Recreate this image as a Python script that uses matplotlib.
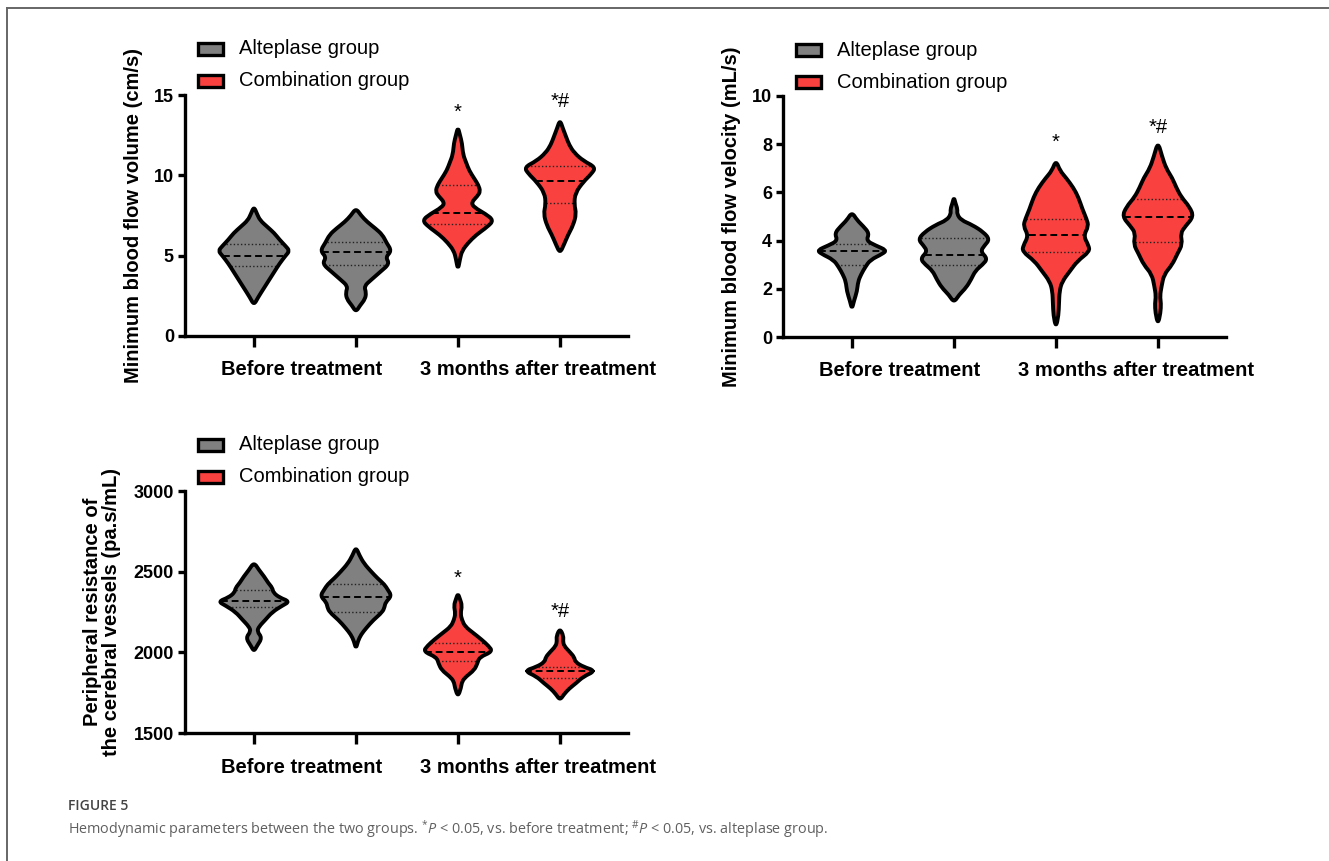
import numpy as np
import matplotlib
matplotlib.use("Agg")
import matplotlib.pyplot as plt
from matplotlib.path import Path
from matplotlib.patches import PathPatch, Rectangle
from matplotlib.lines import Line2D
import matplotlib.transforms as mtransforms

plt.rcParams['font.family'] = ['Liberation Sans', 'DejaVu Sans']
plt.rcParams['mathtext.fontset'] = 'custom'
plt.rcParams['mathtext.rm'] = 'Open Sans'
plt.rcParams['mathtext.it'] = 'Open Sans:italic'

# ---------------- shared data ----------------
time_labels = ["Before treatment", "3 months after treatment"]
time_label_x = [0.47, 2.78]
group_labels = ["Alteplase group", "Combination group"]
group_colors = ["#808080", "#F9423F"]
violin_pos = [0, 1, 2, 3]
violin_color_idx = [0, 0, 1, 1]
sig_labels = ["", "", "*", "*#"]

# ---------------- Panel A: Minimum blood flow volume ----------------
a_ylabel = "Minimum blood flow volume (cm/s)"
a_ylim = [0, 15]
a_yticks = [0, 5, 10, 15]
a_sig_y = [0, 0, 13.56, 14.25]
a1_y = [1.93, 2.4, 3.0, 3.5, 4.0, 4.5, 5.0, 5.3, 5.6, 6.0, 6.4, 6.8, 7.2, 7.6, 8.05]
a1_w = [0, 0.04, 0.10, 0.15, 0.20, 0.25, 0.31, 0.35, 0.31, 0.25, 0.20, 0.13, 0.06, 0.03, 0]
a1_q = [4.35, 5.0, 5.75]
a2_y = [1.5, 1.9, 2.3, 2.7, 3.1, 3.5, 4.0, 4.5, 4.9, 5.3, 5.8, 6.3, 6.7, 7.1, 7.5, 7.95]
a2_w = [0, 0.04, 0.09, 0.10, 0.08, 0.15, 0.24, 0.33, 0.29, 0.35, 0.30, 0.26, 0.19, 0.11, 0.05, 0]
a2_q = [4.4, 5.25, 5.88]
a3_y = [4.1, 4.8, 5.3, 5.8, 6.3, 6.8, 7.2, 7.6, 8.0, 8.3, 8.7, 9.0, 9.4, 9.8, 10.3, 10.8, 11.3, 12.0, 12.5, 13.0]
a3_w = [0, 0.02, 0.04, 0.10, 0.18, 0.29, 0.35, 0.27, 0.16, 0.13, 0.19, 0.22, 0.20, 0.16, 0.11, 0.08, 0.05, 0.04, 0.02, 0]
a3_q = [7.0, 7.63, 9.4]
a4_y = [5.15, 5.7, 6.3, 6.9, 7.6, 8.2, 8.9, 9.6, 10.1, 10.5, 10.9, 11.4, 11.9, 12.4, 12.9, 13.45]
a4_w = [0, 0.04, 0.08, 0.13, 0.16, 0.14, 0.15, 0.23, 0.31, 0.35, 0.23, 0.14, 0.09, 0.06, 0.03, 0]
a4_q = [8.26, 9.65, 10.55]

# ---------------- Panel B: Minimum blood flow velocity ----------------
b_ylabel = "Minimum blood flow velocity (mL/s)"
b_ylim = [0, 10]
b_yticks = [0, 2, 4, 6, 8, 10]
b_sig_y = [0, 0, 7.84, 8.48]
b1_y = [1.15, 1.5, 1.9, 2.3, 2.6, 2.9, 3.2, 3.45, 3.6, 3.8, 4.0, 4.3, 4.6, 4.85, 5.18]
b1_w = [0, 0.02, 0.05, 0.06, 0.09, 0.13, 0.18, 0.30, 0.34, 0.23, 0.14, 0.17, 0.11, 0.05, 0]
b1_q = [3.0, 3.56, 3.86]
b2_y = [1.43, 1.75, 2.05, 2.4, 2.75, 3.0, 3.25, 3.55, 3.8, 4.05, 4.35, 4.65, 4.85, 5.1, 5.3, 5.55, 5.8]
b2_w = [0, 0.05, 0.12, 0.17, 0.21, 0.28, 0.33, 0.26, 0.30, 0.35, 0.29, 0.18, 0.07, 0.03, 0.035, 0.015, 0]
b2_q = [2.99, 3.4, 4.11]
b3_y = [0.39, 0.9, 1.4, 1.9, 2.3, 2.75, 3.15, 3.55, 3.8, 4.2, 4.6, 4.9, 5.3, 5.8, 6.2, 6.6, 6.9, 7.33]
b3_w = [0, 0.025, 0.03, 0.035, 0.06, 0.14, 0.21, 0.33, 0.32, 0.27, 0.32, 0.30, 0.26, 0.22, 0.17, 0.10, 0.04, 0]
b3_q = [3.51, 4.24, 4.88]
b4_y = [0.53, 1.0, 1.4, 1.7, 2.1, 2.6, 3.0, 3.45, 3.85, 4.3, 4.6, 5.0, 5.4, 5.8, 6.2, 6.6, 7.0, 7.5, 8.1]
b4_w = [0, 0.025, 0.03, 0.02, 0.035, 0.06, 0.14, 0.19, 0.24, 0.22, 0.27, 0.35, 0.31, 0.23, 0.18, 0.14, 0.08, 0.04, 0]
b4_q = [3.96, 4.97, 5.71]

# ---------------- Panel C: Peripheral resistance ----------------
c_ylabel = "Peripheral resistance of\nthe cerebral vessels (pa.s/mL)"
c_ylim = [1500, 3000]
c_yticks = [1500, 2000, 2500, 3000]
c_sig_y = [0, 0, 2426, 2219]
c1_y = [2006, 2040, 2090, 2130, 2160, 2200, 2250, 2290, 2315, 2340, 2370, 2400, 2430, 2470, 2510, 2558]
c1_w = [0, 0.03, 0.08, 0.03, 0.05, 0.11, 0.18, 0.28, 0.35, 0.25, 0.19, 0.18, 0.14, 0.10, 0.05, 0]
c1_q = [2283, 2319, 2387]
c2_y = [2021, 2070, 2110, 2150, 2200, 2250, 2280, 2310, 2350, 2390, 2420, 2460, 2500, 2550, 2600, 2652]
c2_w = [0, 0.02, 0.05, 0.10, 0.17, 0.26, 0.28, 0.29, 0.35, 0.31, 0.28, 0.21, 0.15, 0.08, 0.035, 0]
c2_q = [2252, 2344, 2423]
c3_y = [1725, 1780, 1820, 1850, 1890, 1930, 1970, 2005, 2040, 2080, 2120, 2160, 2200, 2240, 2290, 2330, 2365]
c3_w = [0, 0.03, 0.04, 0.08, 0.16, 0.19, 0.21, 0.34, 0.30, 0.23, 0.15, 0.07, 0.04, 0.025, 0.04, 0.02, 0]
c3_q = [1948, 2002, 2058]
c4_y = [1704, 1740, 1775, 1810, 1850, 1885, 1910, 1940, 1970, 2000, 2040, 2070, 2100, 2148]
c4_w = [0, 0.04, 0.09, 0.16, 0.23, 0.35, 0.23, 0.15, 0.14, 0.1, 0.04, 0.03, 0.035, 0]
c4_q = [1840, 1885, 1912]

panels = [
    dict(ylabel=a_ylabel, ylim=a_ylim, yticks=a_yticks, sig_y=a_sig_y,
         prof=[(a1_y, a1_w, a1_q), (a2_y, a2_w, a2_q), (a3_y, a3_w, a3_q), (a4_y, a4_w, a4_q)],
         rect=[185 / 1329, 1 - 336 / 861, 443 / 1329, 241 / 861], labx=-0.095),
    dict(ylabel=b_ylabel, ylim=b_ylim, yticks=b_yticks, sig_y=b_sig_y,
         prof=[(b1_y, b1_w, b1_q), (b2_y, b2_w, b2_q), (b3_y, b3_w, b3_q), (b4_y, b4_w, b4_q)],
         rect=[783 / 1329, 1 - 337 / 861, 443 / 1329, 241 / 861], labx=-0.095),
    dict(ylabel=c_ylabel, ylim=c_ylim, yticks=c_yticks, sig_y=c_sig_y,
         prof=[(c1_y, c1_w, c1_q), (c2_y, c2_w, c2_q), (c3_y, c3_w, c3_q), (c4_y, c4_w, c4_q)],
         rect=[185 / 1329, 1 - 733 / 861, 443 / 1329, 242 / 861], labx=-0.145),
]


def violin_path(c, ys, ws):
    ys = np.asarray(ys, float)
    ws = np.asarray(ws, float)
    right = np.column_stack([c + ws, ys])
    left = np.column_stack([c - ws, ys])[::-1]
    pts = np.vstack([right, left[1:-1]])
    mids = (pts + np.roll(pts, -1, axis=0)) / 2
    verts = [mids[-1]]
    codes = [Path.MOVETO]
    for i in range(len(pts)):
        verts += [pts[i], mids[i]]
        codes += [Path.CURVE3, Path.CURVE3]
    verts.append(mids[-1])
    codes.append(Path.CLOSEPOLY)
    return Path(verts, codes)


fig = plt.figure(figsize=(13.29, 8.61), dpi=100)

LW = 2.4
for p in panels:
    ax = fig.add_axes(p['rect'])
    ax.set_xlim(-0.676, 3.667)
    ax.set_ylim(p['ylim'])
    ax.spines[['top', 'right']].set_visible(False)
    for s in ['left', 'bottom']:
        ax.spines[s].set_linewidth(LW)
    ax.set_xticks(violin_pos)
    ax.set_xticklabels([])
    ax.tick_params(axis='x', length=8, width=LW, direction='out')
    ax.tick_params(axis='y', length=5, width=LW, direction='out', pad=3, labelsize=13)
    ax.set_yticks(p['yticks'])
    for lab in ax.get_yticklabels():
        lab.set_fontweight('bold')
    ax.set_ylabel(p['ylabel'], fontsize=14.5, fontweight='bold', linespacing=1.0)
    ax.yaxis.set_label_coords(p['labx'], 0.5)

    for i, (ys, ws, q) in enumerate(p['prof']):
        c = violin_pos[i]
        col = group_colors[violin_color_idx[i]]
        path = violin_path(c, ys, ws)
        ax.add_patch(PathPatch(path, facecolor=col, edgecolor='none', zorder=2))
        for k, qv in enumerate(q):
            hw = np.interp(qv, ys, ws) * 0.97
            if k == 1:
                ax.plot([c - hw, c + hw], [qv, qv], color='black', lw=1.4,
                        ls=(0, (3.5, 2)), zorder=3, solid_capstyle='butt')
            else:
                ax.plot([c - hw, c + hw], [qv, qv], color='#222222', lw=1.0,
                        ls=(0, (1, 1.6)), zorder=3)
        ax.add_patch(PathPatch(path, facecolor='none', edgecolor='black', lw=2.8,
                               joinstyle='round', zorder=4))
        if sig_labels[i]:
            ax.text(c, p['sig_y'][i], sig_labels[i], ha='center', va='baseline',
                    fontsize=14.5, zorder=5)

    trans = mtransforms.blended_transform_factory(ax.transData, ax.transAxes)
    for tx, tl in zip(time_label_x, time_labels):
        ax.text(tx, -0.141, tl, transform=trans, ha='center', va='center',
                fontsize=14.5, fontweight='bold')

    # legend
    hpx = p['rect'][3] * 861
    wpx = p['rect'][2] * 1329
    rows = [1 + 46 / hpx, 1 + 14 / hpx]
    for gi in range(2):
        ax.add_patch(Rectangle((13 / wpx, rows[gi] - 6 / hpx), 25 / wpx, 12 / hpx,
                               transform=ax.transAxes, facecolor=group_colors[gi],
                               edgecolor='black', lw=2.4, clip_on=False, zorder=5))
        ax.text(54 / wpx, rows[gi], group_labels[gi], transform=ax.transAxes,
                ha='left', va='center', fontsize=14.5)

# frame lines
fig.add_artist(Line2D([7 / 1329, 1], [1 - 8 / 861, 1 - 8 / 861], transform=fig.transFigure,
                      color='#666666', lw=1.4))
fig.add_artist(Line2D([7 / 1329, 7 / 1329], [0, 1 - 8 / 861], transform=fig.transFigure,
                      color='#666666', lw=1.4))

# caption
fig.text(68 / 1329, 1 - 806 / 861, "FIGURE 5", fontsize=10, family='Open Sans',
         fontweight='semibold', color='#444444', ha='left', va='center')
fig.text(68 / 1329, 1 - 829 / 861,
         r"Hemodynamic parameters between the two groups. $^{*}\mathit{P}$ < 0.05, vs. before treatment; "
         r"$^{\#}\mathit{P}$ < 0.05, vs. alteplase group.",
         fontsize=10.4, family='Open Sans', color='#606060', ha='left', va='center')

fig.savefig("out.png", dpi=100)
